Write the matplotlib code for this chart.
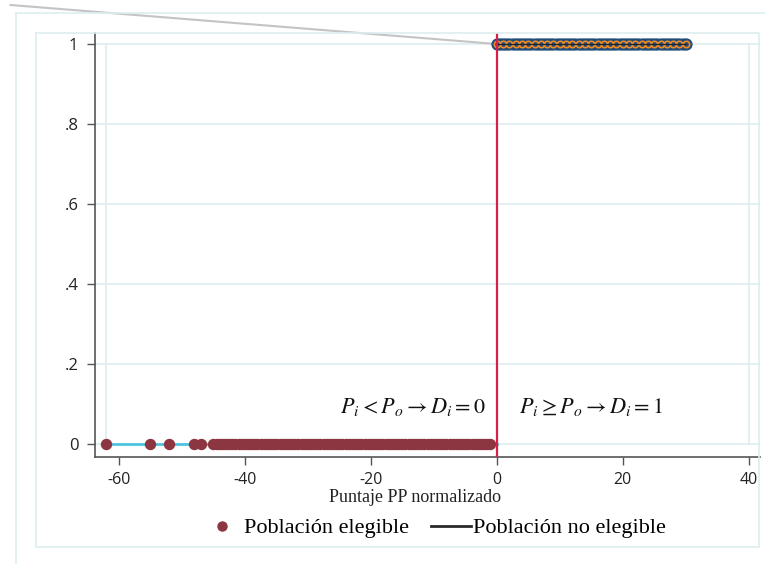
import numpy as np
import matplotlib.pyplot as plt
from matplotlib.lines import Line2D

plt.rcParams['mathtext.fontset'] = 'stix'

# population below the cutoff (not eligible, D=0)
x_low = [-62, -55, -52, -48, -47,
         -45, -44.5, -44, -43.5, -43, -42.5, -42, -41.5, -41, -40.5, -40, -39.5,
         -39, -38.5, -38, -37.5, -37, -36.5, -36, -35.5, -35, -34.5, -34, -33.5,
         -33, -32.5, -32, -31.5, -31, -30.5, -30, -29.5, -29, -28.5, -28, -27.5,
         -27, -26.5, -26, -25.5, -25, -24.5, -24, -23.5, -23, -22.5, -22, -21.5,
         -21, -20.5, -20, -19.5, -19, -18.5, -18, -17.5, -17, -16.5, -16, -15.5,
         -15, -14.5, -14, -13.5, -13, -12.5, -12, -11.5, -11, -10.5, -10, -9.5,
         -9, -8.5, -8, -7.5, -7, -6.5, -6, -5.5, -5, -4.5, -4, -3.5, -3, -2.5,
         -2, -1.5, -1]
y_low = [0] * len(x_low)

# population at / above the cutoff (eligible, D=1)
x_high = [0, 0.5, 1, 1.5, 2, 2.5, 3, 3.5, 4, 4.5, 5, 5.5, 6, 6.5, 7, 7.5, 8, 8.5,
          9, 9.5, 10, 10.5, 11, 11.5, 12, 12.5, 13, 13.5, 14, 14.5, 15, 15.5, 16,
          16.5, 17, 17.5, 18, 18.5, 19, 19.5, 20, 20.5, 21, 21.5, 22, 22.5, 23,
          23.5, 24, 24.5, 25, 25.5, 26, 26.5, 27, 27.5, 28, 28.5, 29, 29.5, 30]
y_high = [1] * len(x_high)

x_ticks = [-60, -40, -20, 0, 20, 40]
y_ticks = [0, 0.2, 0.4, 0.6, 0.8, 1]
y_labels = ['0', '.2', '.4', '.6', '.8', '1']

grid_col = '#deedf0'
tick_font = 'Open Sans'
serif = 'Liberation Serif'

fig = plt.figure(figsize=(7.65, 5.64), dpi=100)

# light frames around the graph region (figure pixel coords)
def frame_line(xs, ys):
    fig.add_artist(Line2D([x / 765 for x in xs], [1 - y / 564 for y in ys],
                          color=grid_col, lw=1.2, transform=fig.transFigure))

frame_line([16, 16], [13, 564])
frame_line([16, 765], [13, 13])
frame_line([36, 759, 759, 36, 36], [33, 33, 547, 547, 33])

ax = fig.add_axes([95 / 765, 1 - 457 / 564, 665 / 765, 424 / 564])
ax.set_xlim(-63.8, 41.8)
ax.set_ylim(-0.0325, 1.0275)
ax.patch.set_alpha(0)

for yt in y_ticks:
    ax.axhline(yt, color=grid_col, lw=1.2, zorder=0)
ax.plot([-62, -62], [0, 1], color=grid_col, lw=1.2, zorder=0)
ax.plot([40, 40], [0, 1], color=grid_col, lw=1.2, zorder=0)

# fitted line from outside the frame to the cutoff
ax.plot([-77.2, 0], [1.0975, 1], color='#c4c4c4', lw=1.5, clip_on=False, zorder=2)

ax.plot([-62, 0], [0, 0], color='#4ec5de', lw=2, zorder=3)
ax.plot(x_low, y_low, 'o', color='#8c3642', ms=7.2, zorder=4)

ax.plot(x_high, y_high, 'o', color='#214c78', ms=7.8, zorder=4)
ax.plot(x_high[::2], y_high[::2], 'o', mfc='none', mec='#f08a24', mew=1.2,
        ms=4.6, zorder=5)
ax.plot([0, 30], [1, 1], color='#222222', lw=0.8, zorder=6)

ax.axvline(0, color='#d6204a', lw=1.6, zorder=7)

for s in ['top', 'right']:
    ax.spines[s].set_visible(False)
for s in ['left', 'bottom']:
    ax.spines[s].set_color('#555555')
    ax.spines[s].set_linewidth(1.2)

ax.set_xticks(x_ticks)
ax.set_xticklabels([str(v) for v in x_ticks], family=tick_font, fontsize=11.5)
ax.set_yticks(y_ticks)
ax.set_yticklabels(y_labels, family=tick_font, fontsize=12)
ax.tick_params(axis='x', direction='out', length=6, width=1, color='#555555',
               pad=5, labelcolor='#222222')
ax.tick_params(axis='y', direction='out', length=6, width=1, color='#555555',
               pad=6, labelcolor='#222222')

ax.text(-1.8, 0.078, r'$P_i < P_o \rightarrow D_i = \mathrm{0}$', ha='right',
        va='baseline', fontsize=16, color='#111111')
ax.text(3.5, 0.078, r'$P_i \geq P_o \rightarrow D_i = \mathrm{1}$', ha='left',
        va='baseline', fontsize=16, color='#111111')

fig.text(415 / 765, 1 - 497 / 564, 'Puntaje PP normalizado', ha='center',
         va='center', family=serif, fontsize=13, color='#222222')

handles = [Line2D([], [], marker='o', ls='none', color='#8c3642', ms=6.5),
           Line2D([], [], color='#2a2a2a', lw=2)]
fig.legend(handles, ['Población elegible', 'Población no elegible'],
           loc='center', bbox_to_anchor=(434 / 765, 1 - 528 / 564), ncol=2,
           frameon=False, prop={'family': serif, 'size': 16},
           handlelength=1.8, handletextpad=0.1, columnspacing=1.0)

fig.savefig('out.png', dpi=100)
